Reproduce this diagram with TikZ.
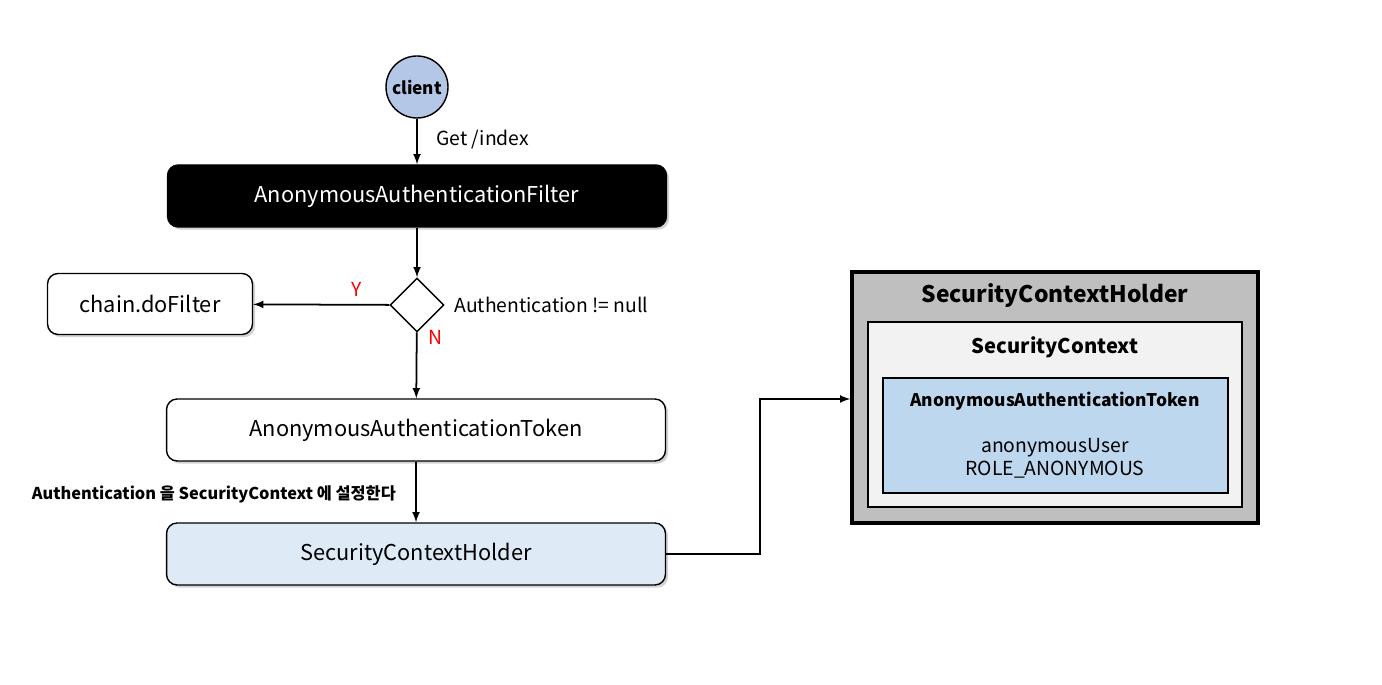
\documentclass[tikz,border=0pt]{standalone}
\usepackage{fontspec}
\setmainfont{Noto Sans CJK KR}
\usetikzlibrary{positioning, shapes.geometric, shadows}
\definecolor{clientblue}{HTML}{B4C7E7}
\definecolor{holderblue}{HTML}{DEEBF7}
\definecolor{tokenblue}{HTML}{BDD7EE}
\definecolor{outergray}{HTML}{BFBFBF}
\definecolor{innergray}{HTML}{F2F2F2}
\begin{document}
\begin{tikzpicture}[x=0.02cm, y=0.02cm, >=latex, font=\fontsize{12.4}{15}\selectfont]
        \tikzset{box/.style={draw, thick, rounded corners=6pt, minimum width=9.98cm, minimum height=1.24cm,
            drop shadow={shadow xshift=1.5pt, shadow yshift=-1.5pt, opacity=0.35}}}
        \tikzstyle{small}=[font=\fontsize{11}{13}\selectfont]
        \tikzstyle{flag}=[text=red, font=\fontsize{11}{13}\selectfont]
        \tikzstyle{flow}=[->, line width=1pt]
        \useasboundingbox (0,0) rectangle (1382,685);

        \node[circle, draw, thick, fill=clientblue, minimum size=1.24cm, inner sep=0pt,
            font=\bfseries\fontsize{9.8}{12}\selectfont] (client) at (417,598) {client};
        \node[box, fill=black, text=white] (filter) at (417,489) {AnonymousAuthenticationFilter};
        \node[diamond, draw, thick, fill=white, minimum size=1.08cm, inner sep=0pt] (cond) at (417,380) {};
        \node[box, fill=white, minimum width=4.1cm, minimum height=1.22cm] (chain) at (150,381) {chain.doFilter};
        \node[box, fill=white] (token) at (416,255) {AnonymousAuthenticationToken};
        \node[box, fill=holderblue] (holder) at (416,131) {SecurityContextHolder};

        \node[small, anchor=west] (get) at (430,545) {Get /index};
        \node[small, right=2pt of cond] (condtext) {Authentication != null};
        \node[flag] (yes) at (357,396) {Y};
        \node[flag] (no) at (435,348) {N};
        \node[anchor=east, font=\bfseries\fontsize{9.3}{11}\selectfont] (setlabel) at (402,191)
            {Authentication 을 SecurityContext 에 설정한다};

        % holder detail on the right
        \node[draw, line width=2pt, fill=outergray, minimum width=8.12cm, minimum height=5.02cm] (outer) at (1055,287.5) {};
        \node[draw, line width=1.2pt, fill=innergray, minimum width=7.48cm, minimum height=3.7cm] (ctx) at (1055,270.5) {};
        \node[draw, line width=1.2pt, fill=tokenblue, minimum width=6.9cm, minimum height=2.3cm] (inner) at (1055.5,249.5) {};
        \node[font=\bfseries\fontsize{13}{15}\selectfont] (outertitle) at (1055,389) {SecurityContextHolder};
        \node[font=\bfseries\fontsize{11.5}{14}\selectfont] (ctxtitle) at (1055,338) {SecurityContext};
        \node[font=\bfseries\fontsize{9.9}{12}\selectfont] (innertitle) at (1055,284) {AnonymousAuthenticationToken};
        \node[small, align=center] (innertext) at (1055,227) {anonymousUser\\ROLE\_ANONYMOUS};

        \coordinate (bend) at (760,286);
        \draw[flow] (client) -- (filter);
        \draw[flow] (filter) -- (cond);
        \draw[flow] (cond) -- (chain);
        \draw[flow] (cond) -- (token);
        \draw[flow] (token) -- (holder);
        \draw[flow] (holder.east) -| (bend) -- (outer.west |- bend);
\end{tikzpicture}
\end{document}
